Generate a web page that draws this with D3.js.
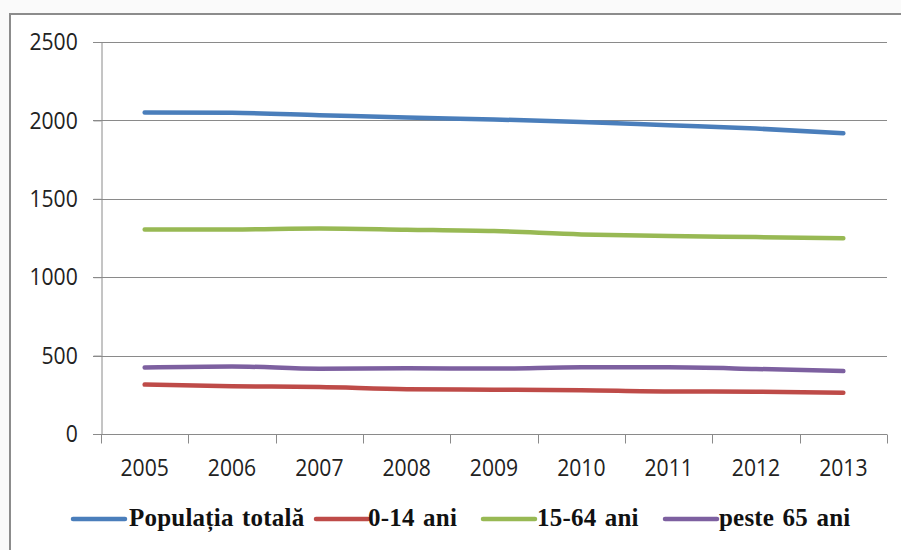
<!DOCTYPE html>
<html>
<head>
<meta charset="utf-8">
<script src="https://cdn.jsdelivr.net/npm/d3@7"></script>
<style>
  html, body { margin: 0; padding: 0; background: #fafafa; }
  svg { display: block; }
</style>
</head>
<body>
<svg id="chart" width="901" height="550"></svg>
<script>
const years = ["2005","2006","2007","2008","2009","2010","2011","2012","2013"];
const seriesNames = ["Populația totală", "0-14 ani", "15-64 ani", "peste 65 ani"];
const seriesColors = ["#4A7EBB", "#BE4B48", "#98B954", "#7D60A0"];
const totalPop = [2050, 2048, 2033, 2018, 2006, 1990, 1969, 1948, 1918];
const age0to14 = [315, 305, 299, 286, 283, 279, 271, 270, 263];
const age15to64 = [1305, 1305, 1311, 1303, 1294, 1273, 1262, 1256, 1249];
const age65plus = [424, 431, 416, 419, 417, 425, 425, 415, 401];
const yTicks = [0, 500, 1000, 1500, 2000, 2500];

const seriesValues = [totalPop, age0to14, age15to64, age65plus];

const svg = d3.select("#chart");
const W = 901, H = 550;
const labelFont = "'Open Sans', sans-serif";
const squeeze = 0.88;

// chart frame
svg.append("rect").attr("x", 0).attr("y", 0).attr("width", W).attr("height", H).attr("fill", "#fafafa");
svg.append("rect").attr("x", 10).attr("y", 14).attr("width", W + 20).attr("height", H + 20)
  .attr("fill", "#ffffff").attr("stroke", "#8c8c8c").attr("stroke-width", 2);

const plot = { left: 101, right: 887, top: 42, bottom: 434 };

const x = d3.scaleBand().domain(years).range([plot.left, plot.right]).paddingInner(0).paddingOuter(0);
const y = d3.scaleLinear().domain([0, 2500]).range([plot.bottom, plot.top]);

// gridlines
svg.append("g")
  .selectAll("line")
  .data(yTicks.filter(d => d > 0))
  .join("line")
  .attr("x1", plot.left - 8).attr("x2", plot.right)
  .attr("y1", d => Math.round(y(d)) + 0.5).attr("y2", d => Math.round(y(d)) + 0.5)
  .attr("stroke", "#8a8a8a").attr("stroke-width", 1);

// y axis
const yAxis = svg.append("g")
  .attr("transform", `translate(${plot.left + 0.5},0)`)
  .call(d3.axisLeft(y).tickValues(yTicks).tickSize(8).tickPadding(19).tickFormat(d3.format("d")));
yAxis.select(".domain").attr("stroke", "#8a8a8a");
yAxis.selectAll(".tick line").attr("stroke", "#8a8a8a");
yAxis.selectAll("text")
  .attr("font-family", labelFont).attr("font-size", 24).attr("fill", "#222")
  .attr("transform", `scale(${squeeze},1)`);

// x axis with ticks at category boundaries
const xAxisG = svg.append("g").attr("transform", `translate(0,${Math.round(plot.bottom) + 0.5})`);
xAxisG.append("line").attr("x1", plot.left - 8).attr("x2", plot.right).attr("stroke", "#8a8a8a");
const boundaries = years.map(d => x(d)).concat([x(years[years.length - 1]) + x.bandwidth()]);
xAxisG.selectAll("line.tk").data(boundaries).join("line").attr("class", "tk")
  .attr("x1", d => Math.round(d) + 0.5).attr("x2", d => Math.round(d) + 0.5)
  .attr("y1", 0).attr("y2", 9).attr("stroke", "#8a8a8a");
xAxisG.selectAll("text").data(years).join("text")
  .attr("transform", d => `translate(${x(d) + x.bandwidth() / 2},41) scale(${squeeze},1)`)
  .attr("text-anchor", "middle")
  .attr("font-family", labelFont).attr("font-size", 24).attr("fill", "#222")
  .text(d => d);

// lines
const line = d3.line()
  .x((d, i) => x(years[i]) + x.bandwidth() / 2)
  .y(d => y(d))
  .curve(d3.curveMonotoneX);

svg.append("g").selectAll("path")
  .data(seriesValues)
  .join("path")
  .attr("d", d => line(d))
  .attr("fill", "none")
  .attr("stroke", (d, i) => seriesColors[i])
  .attr("stroke-width", 4.5)
  .attr("stroke-linecap", "round")
  .attr("stroke-linejoin", "round");

// legend
const legendItems = [
  { swatch: 73, text: 129 },
  { swatch: 316, text: 368 },
  { swatch: 483, text: 537 },
  { swatch: 665, text: 719 }
];
const legend = svg.append("g");
const lg = legend.selectAll("g").data(seriesNames).join("g");
lg.append("line")
  .attr("x1", (d, i) => legendItems[i].swatch)
  .attr("x2", (d, i) => legendItems[i].swatch + 52)
  .attr("y1", 519).attr("y2", 519)
  .attr("stroke", (d, i) => seriesColors[i])
  .attr("stroke-width", 4.5).attr("stroke-linecap", "round");
lg.append("text")
  .attr("x", (d, i) => legendItems[i].text)
  .attr("y", 526)
  .attr("font-family", "'Liberation Serif', 'Times New Roman', serif")
  .attr("font-weight", "bold")
  .attr("font-size", 25)
  .attr("letter-spacing", 0.2)
  .attr("word-spacing", 2)
  .attr("fill", "#111")
  .text(d => d);
</script>
</body>
</html>
